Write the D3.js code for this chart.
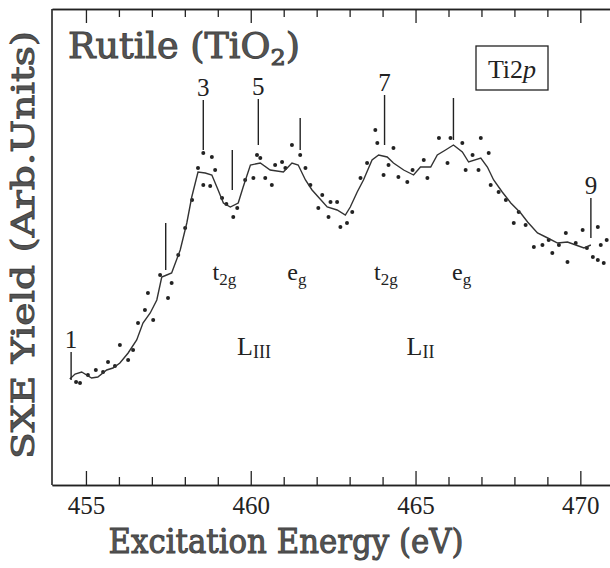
<!DOCTYPE html>
<html>
<head>
<meta charset="utf-8">
<title>Rutile TiO2 Ti 2p SXE yield</title>
<script src="https://cdn.jsdelivr.net/npm/d3@7"></script>
<style>
  body { margin: 0; background: #fff; }
  .ttl { font-family: "DejaVu Serif", serif; font-weight: normal; fill: #555; stroke: #444; stroke-width: 1px; }
  .lbl { font-family: "Liberation Serif", "Times New Roman", serif; fill: #222; }
</style>
</head>
<body>
<div id="chart"></div>
<script>
// smoothed yield curve (energy in eV, yield in arb. units)
var lineEnergy = [454.51, 454.67, 454.87, 455.17, 455.36, 455.63, 455.82, 456.03, 456.28, 456.54,
  456.73, 456.95, 457.15, 457.30, 457.45, 457.60, 457.86, 458.06, 458.21, 458.40,
  458.62, 458.82, 459.01, 459.17, 459.38, 459.62, 459.77, 459.99, 460.29, 460.59,
  460.99, 461.25, 461.44, 461.66, 461.86, 462.05, 462.32, 462.62, 462.87, 463.02,
  463.23, 463.42, 463.68, 463.88, 464.14, 464.33, 464.64, 464.94, 465.15, 465.46,
  465.66, 465.91, 466.15, 466.42, 466.61, 466.98, 467.18, 467.37, 467.63, 467.89,
  468.19, 468.40, 468.70, 469.01, 469.31, 469.61, 469.86, 470.11, 470.32];
var lineYield = [1.06, 1.11, 1.13, 1.07, 1.08, 1.15, 1.17, 1.22, 1.32, 1.45,
  1.62, 1.72, 1.85, 2.08, 2.10, 2.12, 2.35, 2.62, 2.88, 3.13,
  3.12, 3.10, 2.95, 2.82, 2.78, 2.82, 2.98, 3.20, 3.22, 3.15,
  3.13, 3.22, 3.20, 3.05, 2.95, 2.88, 2.78, 2.75, 2.70, 2.78,
  2.93, 3.05, 3.25, 3.30, 3.28, 3.22, 3.15, 3.10, 3.18, 3.18,
  3.30, 3.35, 3.40, 3.33, 3.23, 3.27, 3.18, 3.05, 2.93, 2.82,
  2.72, 2.63, 2.52, 2.47, 2.42, 2.43, 2.40, 2.37, 2.40];

// raw data points
var dotEnergy = [454.70, 454.82, 455.06, 455.30, 455.52, 455.67, 455.88, 456.03, 456.28, 456.43,
  456.58, 456.79, 456.88, 457.04, 457.25, 457.49, 457.60, 457.80, 458.01, 458.22,
  458.40, 458.56, 458.82, 458.92, 458.56, 458.77, 459.13, 459.26, 459.47, 459.59,
  459.83, 460.08, 460.19, 460.29, 460.44, 460.64, 460.74, 460.95, 461.05, 461.25,
  461.50, 461.66, 461.81, 462.05, 462.17, 462.36, 462.42, 462.62, 462.72, 462.92,
  463.08, 463.33, 463.53, 463.78, 463.84, 464.03, 464.18, 464.33, 464.48, 464.75,
  464.91, 465.25, 465.36, 465.71, 465.97, 466.06, 466.42, 466.52, 466.73, 466.91,
  466.98, 467.22, 467.28, 467.52, 467.74, 467.98, 468.13, 468.34, 468.59, 468.85,
  469.04, 469.15, 469.35, 469.56, 469.61, 469.86, 470.07, 470.20, 470.38, 470.53,
  470.53, 470.62, 470.71, 470.80];
var dotYield = [1.03, 1.02, 1.10, 1.15, 1.13, 1.23, 1.19, 1.40, 1.25, 1.35,
  1.62, 1.75, 1.92, 1.65, 2.10, 1.87, 2.02, 2.30, 2.57, 2.85,
  3.17, 3.32, 3.28, 3.15, 3.00, 2.99, 2.87, 2.81, 2.68, 2.77,
  3.05, 3.07, 3.30, 3.27, 3.07, 3.00, 3.20, 3.23, 3.17, 3.40,
  3.30, 3.17, 3.00, 2.77, 2.90, 2.68, 2.83, 2.83, 2.58, 2.62,
  2.73, 3.07, 3.22, 3.55, 3.42, 3.10, 3.20, 3.37, 3.08, 3.03,
  3.15, 3.25, 3.07, 3.47, 3.22, 3.47, 3.42, 3.15, 3.30, 3.15,
  3.47, 3.32, 3.00, 2.93, 2.85, 2.62, 2.73, 2.60, 2.38, 2.40,
  2.45, 2.32, 2.40, 2.52, 2.23, 2.42, 2.55, 2.37, 2.28, 2.58,
  2.25, 2.40, 2.22, 2.45];

// structure markers: position, line bottom / top (yield units), label
var markEnergy = [454.55, 457.42, 458.56, 459.44, 460.23, 461.50, 464.06, 466.15, 470.32];
var markLow    = [1.05, 2.15, 3.35, 2.95, 3.40, 3.35, 3.40, 3.45, 2.47];
var markHigh   = [1.33, 2.62, 3.85, 3.35, 3.86, 3.67, 3.90, 3.87, 2.87];
var markLabel  = ["1", "", "3", "", "5", "", "7", "", "9"];

// band labels
var bandEnergy = [459.2, 461.4, 464.1, 466.4];
var bandMain = ["t", "e", "t", "e"];
var bandSub = ["2g", "g", "2g", "g"];
var edgeEnergy = [460.1, 465.15];
var edgeSub = ["III", "II"];

var majorTicks = [455, 460, 465, 470];
var minorTicks = d3.range(455, 471, 1).filter(function(d) { return d % 5 !== 0; });

var margin = {top: 9, right: 0, bottom: 83, left: 52},
    width = 610 - margin.left - margin.right,
    height = 568 - margin.top - margin.bottom;

var svg = d3.select("#chart")
  .append("svg")
    .attr("width", 610)
    .attr("height", 568)
  .append("g")
    .attr("transform", "translate(" + margin.left + "," + margin.top + ")");

var x = d3.scaleLinear().domain([453.97, 470.9]).range([0, width]);
var y = d3.scaleLinear().domain([0, 4.76]).range([height, 0]);

// left frame line
svg.append("line").attr("x1", 0).attr("x2", 0).attr("y1", 0).attr("y2", height)
  .attr("stroke", "#222").attr("stroke-width", 1.6);

// bottom axis: major ticks with labels, minor ticks without
var xMajor = svg.append("g")
  .attr("transform", "translate(0," + height + ")")
  .call(d3.axisBottom(x).tickValues(majorTicks).tickSize(-14).tickSizeOuter(0)
    .tickFormat(d3.format("d")).tickPadding(11));
var xMinor = svg.append("g")
  .attr("transform", "translate(0," + height + ")")
  .call(d3.axisBottom(x).tickValues(minorTicks).tickSize(-8).tickSizeOuter(0).tickFormat(""));

// top axis, ticks only
var tMajor = svg.append("g")
  .call(d3.axisTop(x).tickValues(majorTicks).tickSize(-14).tickSizeOuter(0).tickFormat(""));
var tMinor = svg.append("g")
  .call(d3.axisTop(x).tickValues(minorTicks).tickSize(-8).tickSizeOuter(0).tickFormat(""));

svg.selectAll(".domain").attr("stroke", "#222").attr("stroke-width", 1.6);
svg.selectAll(".tick line").attr("stroke", "#222").attr("stroke-width", 1.3);
xMajor.selectAll(".tick text")
  .attr("class", "lbl")
  .style("font-size", "25px")
  .attr("fill", "#222");

// axis titles
svg.append("text")
  .attr("class", "ttl")
  .attr("text-anchor", "middle")
  .attr("x", 286 - margin.left)
  .attr("y", 553 - margin.top)
  .style("font-size", "34px")
  .attr("textLength", 355)
  .attr("lengthAdjust", "spacingAndGlyphs")
  .text("Excitation  Energy  (eV)");

svg.append("text")
  .attr("class", "ttl")
  .attr("text-anchor", "middle")
  .attr("transform", "rotate(-90)")
  .attr("x", -(245 - margin.top))
  .attr("y", -margin.left + 34)
  .style("font-size", "32px")
  .attr("textLength", 428)
  .attr("lengthAdjust", "spacingAndGlyphs")
  .text("SXE  Yield  (Arb.Units)");

// sample title and edge box
var title = svg.append("text")
  .attr("class", "ttl")
  .attr("x", 68 - margin.left)
  .attr("y", 58 - margin.top)
  .style("font-size", "35px")
  .attr("textLength", 232)
  .attr("lengthAdjust", "spacingAndGlyphs");
title.append("tspan").text("Rutile  (TiO");
title.append("tspan").attr("dy", 7).style("font-size", "23px").text("2");
title.append("tspan").attr("dy", -7).text(")");

svg.append("rect")
  .attr("x", 476 - margin.left).attr("y", 46 - margin.top)
  .attr("width", 72).attr("height", 44)
  .attr("fill", "none").attr("stroke", "#222").attr("stroke-width", 1.3);
var edge = svg.append("text")
  .attr("class", "lbl")
  .attr("x", 512 - margin.left).attr("y", 78 - margin.top)
  .attr("text-anchor", "middle")
  .style("font-size", "26px");
edge.append("tspan").text("Ti2");
edge.append("tspan").style("font-style", "italic").text("p");

// raw points
svg.selectAll(".dot")
  .data(dotEnergy)
  .enter()
  .append("circle")
    .attr("class", "dot")
    .attr("cx", function(d) { return x(d); })
    .attr("cy", function(d, i) { return y(dotYield[i]); })
    .attr("r", 2)
    .attr("fill", "#222");

// smoothed curve
var line = d3.line()
  .x(function(d) { return x(d); })
  .y(function(d, i) { return y(lineYield[i]); });
svg.append("path")
  .datum(lineEnergy)
  .attr("d", line)
  .attr("fill", "none")
  .attr("stroke", "#333")
  .attr("stroke-width", 1.4);

// vertical markers with numbers
svg.selectAll(".mark")
  .data(markEnergy)
  .enter()
  .append("line")
    .attr("class", "mark")
    .attr("x1", function(d) { return x(d); })
    .attr("x2", function(d) { return x(d); })
    .attr("y1", function(d, i) { return y(markLow[i]); })
    .attr("y2", function(d, i) { return y(markHigh[i]); })
    .attr("stroke", "#222")
    .attr("stroke-width", 1.4);

svg.selectAll(".mlab")
  .data(markEnergy)
  .enter()
  .append("text")
    .attr("class", "lbl mlab")
    .attr("text-anchor", "middle")
    .attr("x", function(d) { return x(d); })
    .attr("y", function(d, i) { return y(markHigh[i]) - 4; })
    .style("font-size", "25px")
    .text(function(d, i) { return markLabel[i]; });

// t2g / eg labels
bandEnergy.forEach(function(e, i) {
  var t = svg.append("text")
    .attr("class", "lbl")
    .attr("text-anchor", "middle")
    .attr("x", x(e))
    .attr("y", y(2.05))
    .style("font-size", "24px");
  t.append("tspan").text(bandMain[i]);
  t.append("tspan").attr("dy", 5).style("font-size", "17px").text(bandSub[i]);
});

// L edges
edgeEnergy.forEach(function(e, i) {
  var t = svg.append("text")
    .attr("class", "lbl")
    .attr("text-anchor", "middle")
    .attr("x", x(e))
    .attr("y", y(1.3))
    .style("font-size", "26px");
  t.append("tspan").text("L");
  t.append("tspan").attr("dy", 3).style("font-size", "18px").text(edgeSub[i]);
});
</script>
</body>
</html>
